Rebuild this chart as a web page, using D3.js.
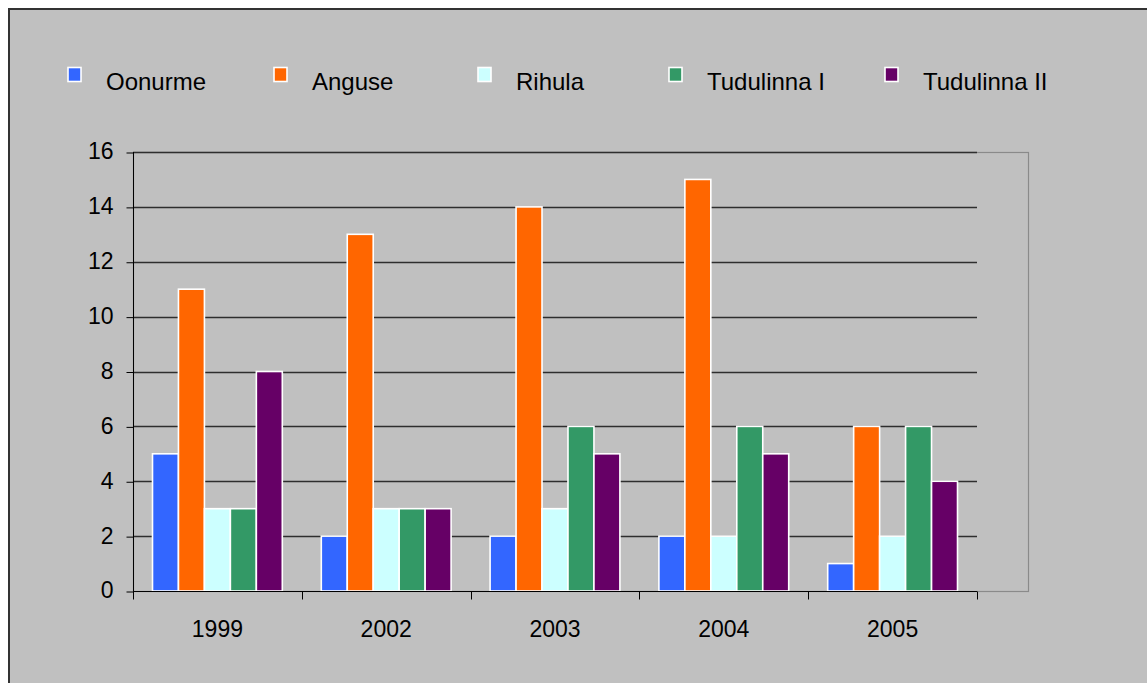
<!DOCTYPE html>
<html>
<head>
<meta charset="utf-8">
<script src="https://cdn.jsdelivr.net/npm/d3@7"></script>
<style>
  html, body { margin: 0; padding: 0; background: #ffffff; }
  svg { display: block; }
  text { font-family: Arial, "Liberation Sans", sans-serif; fill: #000; }
</style>
</head>
<body>
<svg id="chart" width="1147" height="683"></svg>
<script>
// Years on the category axis
const years = ["1999", "2002", "2003", "2004", "2005"];

// Site names (series) and their fill colours
const sites = ["Oonurme", "Anguse", "Rihula", "Tudulinna I", "Tudulinna II"];
const siteColors = ["#3366FF", "#FF6600", "#CCFFFF", "#339966", "#660066"];

// Counts per site, one value per year
const oonurme     = [5, 2, 2, 2, 1];
const anguse      = [11, 13, 14, 15, 6];
const rihula      = [3, 3, 3, 2, 2];
const tudulinnaI  = [3, 3, 6, 6, 6];
const tudulinnaII = [8, 3, 5, 5, 4];

// Value-axis tick labels
const yTicks = [0, 2, 4, 6, 8, 10, 12, 14, 16];

const seriesValues = [oonurme, anguse, rihula, tudulinnaI, tudulinnaII];

const svg = d3.select("#chart");
const W = 1147, H = 683;
const AXIS_FONT = 23;
const LEGEND_FONT = 24;
const FAMILY = "Arial, 'Liberation Sans', sans-serif";

// Chart area background with dark frame
svg.append("rect")
  .attr("x", 9).attr("y", 9)
  .attr("width", W + 10).attr("height", H + 10)
  .attr("fill", "#C0C0C0")
  .attr("stroke", "#333333")
  .attr("stroke-width", 2);

// Plot geometry
const plot = { left: 133, right: 977, top: 152, bottom: 591, frameRight: 1028.5 };

const x0 = d3.scaleBand().domain(years).range([plot.left, plot.right]).padding(0);
const bw = x0.bandwidth();
const groupPad = bw * 0.1155;
const x1 = d3.scaleBand().domain(sites).range([groupPad, bw - groupPad]).padding(0);
const y = d3.scaleLinear().domain([0, 16]).range([plot.bottom, plot.top]);
const color = d3.scaleOrdinal().domain(sites).range(siteColors);

// Plot area frame (extends beyond the last category)
svg.append("rect")
  .attr("x", plot.left + 0.5).attr("y", plot.top + 0.5)
  .attr("width", plot.frameRight - plot.left - 0.5)
  .attr("height", plot.bottom - plot.top)
  .attr("fill", "none")
  .attr("stroke", "#8a8a8a")
  .attr("stroke-width", 1.2);

// Horizontal gridlines
svg.append("g")
  .selectAll("line")
  .data(yTicks.filter(d => d > 0))
  .join("line")
  .attr("x1", plot.left).attr("x2", plot.right)
  .attr("y1", d => Math.round(y(d)) + 0.5)
  .attr("y2", d => Math.round(y(d)) + 0.5)
  .attr("stroke", "#2e2e2e")
  .attr("stroke-width", 1.4);

// Bars
const table = years.map((yr, i) => ({ year: yr, vals: sites.map((s, j) => ({ site: s, value: seriesValues[j][i] })) }));

svg.append("g")
  .selectAll("g")
  .data(table)
  .join("g")
  .attr("transform", d => `translate(${x0(d.year)},0)`)
  .selectAll("rect")
  .data(d => d.vals)
  .join("rect")
  .attr("x", d => x1(d.site))
  .attr("y", d => y(d.value))
  .attr("width", x1.bandwidth())
  .attr("height", d => y(0) - y(d.value))
  .attr("fill", d => color(d.site))
  .attr("stroke", "#ffffff")
  .attr("stroke-width", 1.6);

// Y axis
const yAxis = d3.axisLeft(y).tickValues(yTicks).tickSizeInner(7).tickSizeOuter(0).tickPadding(13).tickFormat(d3.format("d"));
const gy = svg.append("g").attr("transform", `translate(${plot.left + 0.5},0)`).call(yAxis);
gy.select(".domain").remove();
gy.selectAll(".tick line").attr("stroke", "#000").attr("transform", "translate(0,0.5)");
gy.selectAll(".tick text").attr("font-size", AXIS_FONT).attr("dy", "0.30em")
  .style("font-family", FAMILY);
gy.append("line")
  .attr("x1", 0).attr("x2", 0)
  .attr("y1", plot.top).attr("y2", plot.bottom + 8)
  .attr("stroke", "#000");

// X axis: line, ticks at category boundaries, centred labels
const xAxis = d3.axisBottom(x0).tickSize(0).tickPadding(29);
const gx = svg.append("g").attr("transform", `translate(0,${plot.bottom + 0.5})`).call(xAxis);
gx.select(".domain").remove();
gx.selectAll(".tick text").attr("font-size", AXIS_FONT)
  .style("font-family", FAMILY);
gx.append("line")
  .attr("x1", plot.left).attr("x2", plot.right)
  .attr("y1", 0).attr("y2", 0)
  .attr("stroke", "#000");
const edges = years.map(d => x0(d)).concat([x0(years[years.length - 1]) + bw]);
gx.selectAll(".edge")
  .data(edges)
  .join("line")
  .attr("class", "edge")
  .attr("x1", d => Math.round(d) + 0.5).attr("x2", d => Math.round(d) + 0.5)
  .attr("y1", 0).attr("y2", 8)
  .attr("stroke", "#000");

// Legend row: left edge of each entry's swatch
const legendLeft = [67, 273, 477, 668, 884];
const legend = svg.append("g")
  .selectAll("g")
  .data(sites)
  .join("g")
  .attr("transform", (d, i) => `translate(${legendLeft[i]},0)`);
legend.append("rect")
  .attr("x", 1).attr("y", 67.5)
  .attr("width", 13).attr("height", 14)
  .attr("fill", d => color(d))
  .attr("stroke", "#ffffff")
  .attr("stroke-width", 1.6);
legend.append("text")
  .attr("x", 39).attr("y", 90)
  .attr("font-size", LEGEND_FONT)
  .style("font-family", FAMILY)
  .text(d => d);
</script>
</body>
</html>
